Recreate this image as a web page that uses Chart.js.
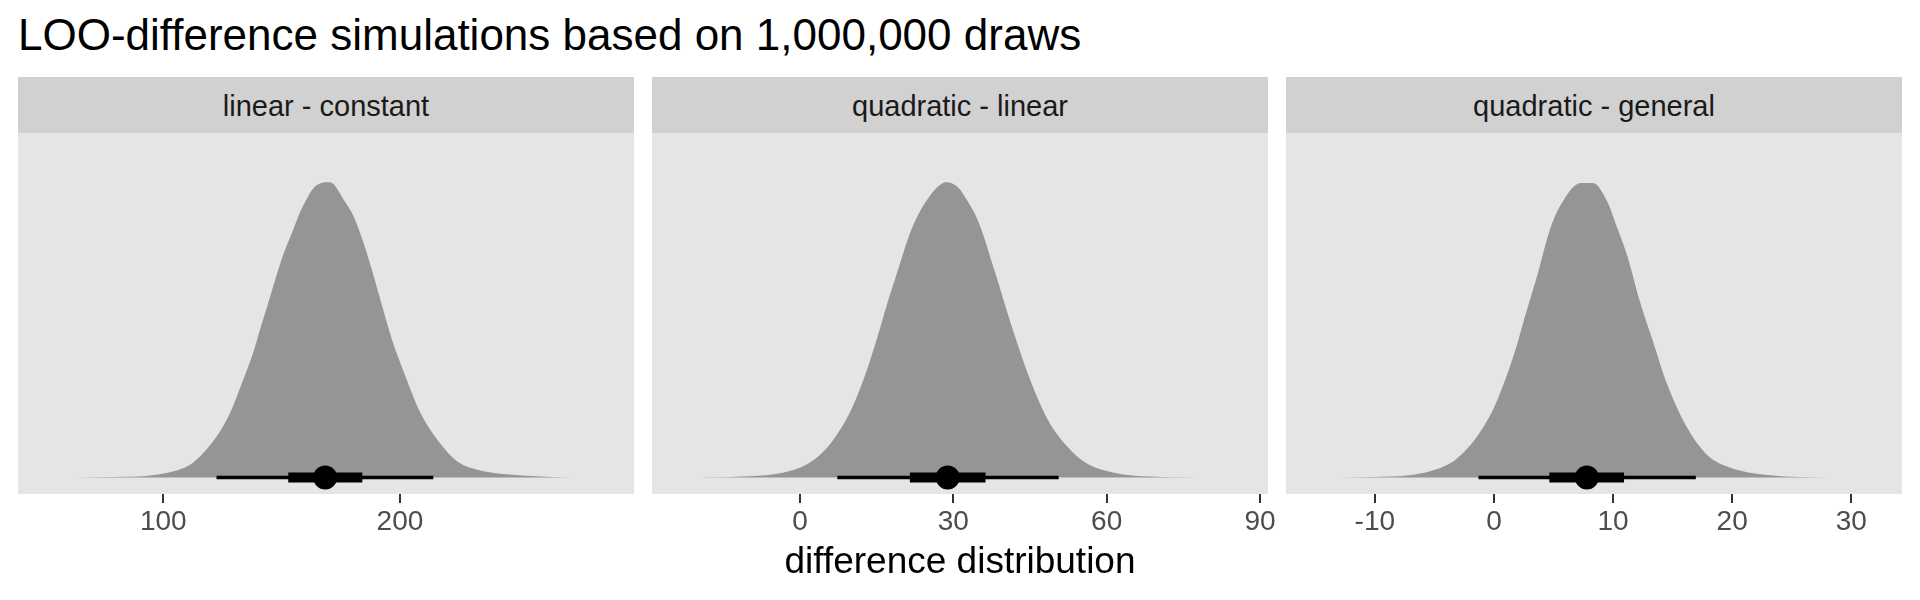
<!DOCTYPE html>
<html>
<head>
<meta charset="utf-8">
<script src="https://cdn.jsdelivr.net/npm/chart.js@4.4.0/dist/chart.umd.min.js"></script>
<style>
  body { margin: 0; background: #fff; font-family: "Liberation Sans", Arial, sans-serif; }
  #wrap { position: relative; width: 1920px; height: 600px; overflow: hidden; }
  canvas { position: absolute; left: 0; top: 0; }
  .title { position: absolute; left: 18px; top: 13px; font-size: 44px; line-height: 44px; color: #000; white-space: nowrap; }
  .strip { position: absolute; top: 77px; height: 56px; line-height: 58px; background: #D1D1D1; color: #1A1A1A; font-size: 29px; text-align: center; }
  .xtitle { position: absolute; left: 0; width: 1920px; top: 542px; font-size: 37px; line-height: 37px; text-align: center; color: #000; }
</style>
</head>
<body>
<div id="wrap">
  <div class="title">LOO-difference simulations based on 1,000,000 draws</div>
  <div class="strip" style="left:18px;width:616px;">linear - constant</div>
  <div class="strip" style="left:652px;width:616px;">quadratic - linear</div>
  <div class="strip" style="left:1286px;width:616px;">quadratic - general</div>
  <canvas id="panel-1" width="1920" height="600"></canvas>
  <canvas id="panel-2" width="1920" height="600"></canvas>
  <canvas id="panel-3" width="1920" height="600"></canvas>
  <div class="xtitle">difference distribution</div>
</div>

<script>
// facet labels
const panelLabels = ['linear - constant', 'quadratic - linear', 'quadratic - general'];

// linear - constant: density outline (slab height, peak = 0.9)
const lcX    = [62, 78.9, 93, 102.8, 111.3, 116.9, 122.6, 128.2, 133.8, 138, 140.9, 144.8, 150, 155.2, 157.8, 160.6, 163.4, 166.5, 169.7, 171.8, 176.0, 180.3, 184.5, 188.0, 191.4, 196.6, 201.7, 208.6, 217.2, 224.1, 234.5, 245, 255.2, 272.4];
const lcDens = [0, 0.002, 0.005, 0.016, 0.039, 0.075, 0.126, 0.197, 0.299, 0.381, 0.452, 0.543, 0.665, 0.761, 0.809, 0.849, 0.882, 0.897, 0.900, 0.895, 0.849, 0.798, 0.717, 0.636, 0.550, 0.421, 0.320, 0.198, 0.102, 0.050, 0.021, 0.010, 0.005, 0];
const lcInterval = [168.4, 152.8, 184.1, 122.5, 214.1];   // median, inner lo/hi, outer lo/hi
const lcTicks = [100, 200];

// quadratic - linear
const qlX    = [-20.1, -10, -3.4, 1.4, 5.0, 9.4, 12.2, 15.0, 17.0, 19.4, 21.8, 25.4, 28.6, 31.0, 32.6, 35.0, 38.2, 41.0, 45.0, 48.6, 52.2, 55.8, 61.4, 68.6, 77.4];
const qlDens = [0, 0.004, 0.015, 0.041, 0.086, 0.188, 0.289, 0.421, 0.527, 0.644, 0.756, 0.858, 0.900, 0.883, 0.847, 0.776, 0.624, 0.482, 0.300, 0.173, 0.096, 0.046, 0.015, 0.003, 0];
const qlInterval = [28.9, 21.5, 36.3, 7.3, 50.6];
const qlTicks = [0, 30, 60, 90];

// quadratic - general
const qgX    = [-13.1, -10.1, -7.3, -5.1, -3.4, -2.3, -1.2, -0.06, 1.07, 1.9, 2.6, 3.7, 4.7, 5.7, 7.3, 8.3, 9.5, 10.3, 11.2, 12.2, 13.3, 14.6, 16.3, 18.0, 19.8, 23.2, 28.0];
const qgDens = [0, 0.002, 0.006, 0.022, 0.050, 0.086, 0.137, 0.208, 0.310, 0.401, 0.490, 0.624, 0.756, 0.837, 0.898, 0.898, 0.842, 0.766, 0.675, 0.543, 0.421, 0.279, 0.147, 0.066, 0.031, 0.007, 0];
const qgInterval = [7.8, 4.65, 10.92, -1.3, 16.95];
const qgTicks = [-10, 0, 10, 20, 30];

const panelBg = {
    id: 'panelBg',
    beforeDraw(chart) {
        const a = chart.chartArea;
        chart.ctx.save();
        chart.ctx.fillStyle = '#E5E5E5';
        chart.ctx.fillRect(a.left, a.top, a.right - a.left, a.bottom - a.top);
        chart.ctx.restore();
    }
};

function createPanel(id, left, xs, dens, iv, tickVals, xmin, xmax)
{
    const ctx = document.getElementById(id);
    const slab = xs.map((x, i) => ({x: x, y: dens[i]}));

    new Chart(ctx,
    {
        type: 'line',
        data: {
            datasets: [
                {
                    data: [{x: iv[0], y: 0}],
                    showLine: false,
                    pointRadius: 12,
                    pointBackgroundColor: '#000',
                    pointBorderWidth: 0,
                    order: 1
                },
                {
                    data: [{x: iv[1], y: 0}, {x: iv[2], y: 0}],
                    borderColor: '#000',
                    borderWidth: 10,
                    borderCapStyle: 'butt',
                    pointRadius: 0,
                    order: 2
                },
                {
                    data: [{x: iv[3], y: 0}, {x: iv[4], y: 0}],
                    borderColor: '#000',
                    borderWidth: 3.5,
                    borderCapStyle: 'butt',
                    pointRadius: 0,
                    order: 3
                },
                {
                    data: slab,
                    fill: 'origin',
                    backgroundColor: '#959595',
                    borderWidth: 0,
                    pointRadius: 0,
                    cubicInterpolationMode: 'monotone',
                    order: 4
                }
            ]
        },
        options: {
            responsive: false,
            animation: false,
            layout: {
                padding: {left: left, right: 1920 - left - 616, top: 133, bottom: 40}
            },
            scales: {
                x: {
                    type: 'linear',
                    min: xmin,
                    max: xmax,
                    afterBuildTicks: (axis) => { axis.ticks = tickVals.map(v => ({value: v})); },
                    afterFit: (axis) => { axis.height = 66; },
                    grid: {
                        drawOnChartArea: false,
                        drawTicks: true,
                        tickLength: 9,
                        tickColor: '#333333',
                        lineWidth: 2
                    },
                    border: {display: false},
                    ticks: {
                        color: '#4D4D4D',
                        font: {family: 'Liberation Sans', size: 28},
                        padding: 2,
                        maxRotation: 0,
                        autoSkip: false
                    }
                },
                y: {
                    display: false,
                    min: -0.05,
                    max: 1.05
                }
            },
            plugins: {
                legend: {display: false},
                tooltip: {enabled: false}
            }
        },
        plugins: [panelBg]
    });
}

createPanel('panel-1', 18, lcX, lcDens, lcInterval, lcTicks, 38.6, 298.9);
createPanel('panel-2', 652, qlX, qlDens, qlInterval, qlTicks, -28.96, 91.57);
createPanel('panel-3', 1286, qgX, qgDens, qgInterval, qgTicks, -17.46, 34.26);
</script>
</body>
</html>
